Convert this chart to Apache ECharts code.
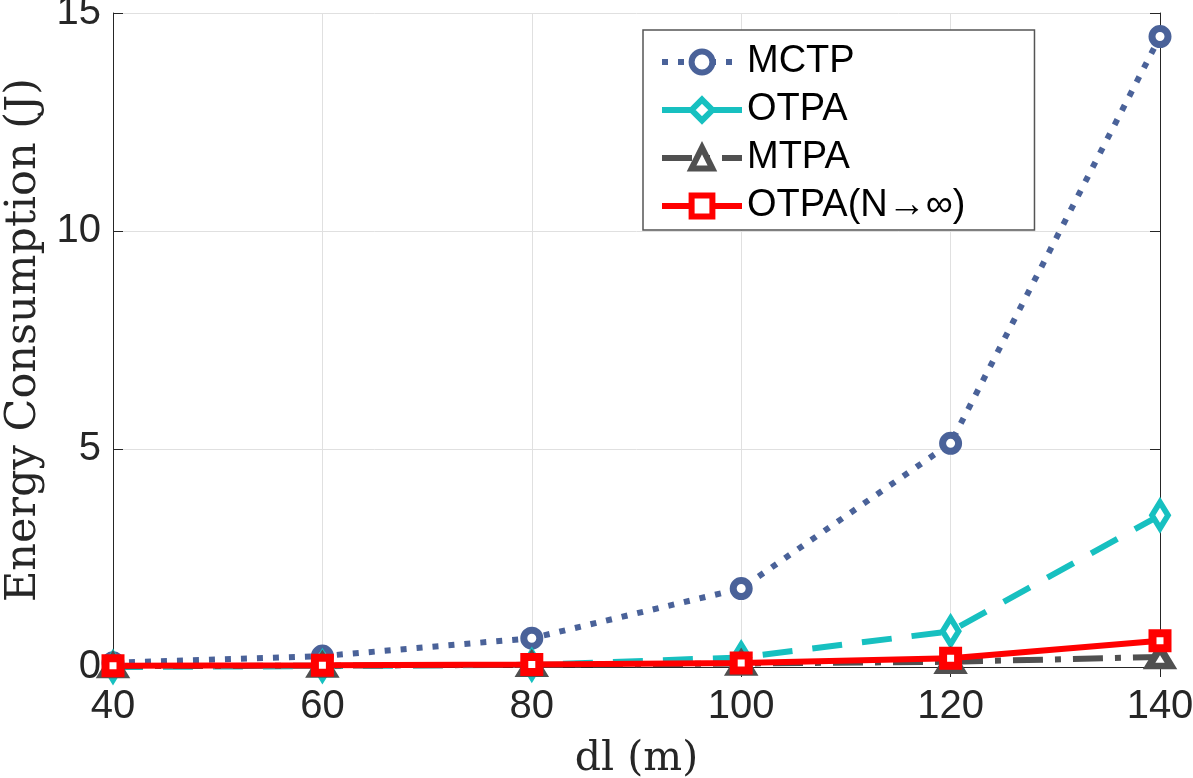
<!DOCTYPE html>
<html>
<head>
    <meta charset="utf-8">
    <script src="https://cdn.jsdelivr.net/npm/echarts@6/dist/echarts.min.js"></script>
</head>
<body style="margin:0;">
<div id="main" style="width: 1193px;height:778px;"></div>

<script type="text/javascript">
    // data
    var dl = [40, 60, 80, 100, 120, 140];
    var mctp = [0.1, 0.25, 0.66, 1.8, 5.13, 14.46];
    var otpa = [0.0, 0.02, 0.05, 0.22, 0.82, 3.48];
    var mtpa = [0.02, 0.03, 0.05, 0.08, 0.12, 0.23];
    var otpaInf = [0.03, 0.04, 0.06, 0.09, 0.2, 0.6];

    function pairs(ys) {
        return dl.map(function (x, i) { return [x, ys[i]]; });
    }

    var dom = document.getElementById("main");
    var myChart = echarts.init(dom);
    var tickFont = {fontFamily: 'Liberation Sans', fontSize: 40, color: '#262626'};
    var boxLine = {show: true, lineStyle: {color: '#262626', width: 1}};

    var option = {
        animation: false,
        backgroundColor: '#fff',
        grid: {left: 113, right: 33, top: 13, bottom: 111, outerBoundsMode: 'none', containLabel: false},
        legend: {
            orient: 'vertical',
            left: 643, top: 30,
            padding: [13, 69, 5, 16],
            itemGap: 10,
            itemWidth: 80, itemHeight: 26,
            borderColor: '#555', borderWidth: 1.5,
            backgroundColor: '#fff',
            lineStyle: {width: 6},
            itemStyle: {borderWidth: 6},
            textStyle: {fontFamily: 'Liberation Sans', fontSize: 38, color: '#000'},
            data: ['MCTP', 'OTPA', 'MTPA', 'OTPA(N\u2192\u221E)']
        },
        xAxis: [{
            type: 'value', min: 40, max: 140, interval: 20,
            name: 'dl (m)', nameLocation: 'middle', nameGap: 72,
            nameTextStyle: {fontFamily: 'DejaVu Serif', fontSize: 41, color: '#262626'},
            axisLine: boxLine,
            axisTick: {inside: true, length: 10, lineStyle: {color: '#262626'}},
            axisLabel: Object.assign({margin: 20}, tickFont),
            splitLine: {show: true, lineStyle: {color: '#e0e0e0', width: 1}}
        }, {
            type: 'value', min: 40, max: 140, interval: 20, position: 'top',
            axisLine: boxLine,
            axisTick: {inside: true, length: 10, lineStyle: {color: '#262626'}},
            axisLabel: {show: false}, splitLine: {show: false}
        }],
        yAxis: [{
            type: 'value', min: 0, max: 15, interval: 5,
            name: 'Energy Consumption (J)', nameLocation: 'middle', nameGap: 66,
            nameTextStyle: {fontFamily: 'DejaVu Serif', fontSize: 43, color: '#262626'},
            axisLine: boxLine,
            axisTick: {inside: true, length: 10, lineStyle: {color: '#262626'}},
            axisLabel: Object.assign({margin: 12}, tickFont),
            splitLine: {show: true, lineStyle: {color: '#e0e0e0', width: 1}}
        }, {
            type: 'value', min: 0, max: 15, interval: 5, position: 'right',
            axisLine: boxLine,
            axisTick: {inside: true, length: 10, lineStyle: {color: '#262626'}},
            axisLabel: {show: false}, splitLine: {show: false}
        }],
        series: [{
            name: 'MCTP', type: 'line', data: pairs(mctp), clip: false,
            symbol: 'circle', symbolSize: 16,
            lineStyle: {color: '#4a6299', width: 6, type: [6, 10]},
            itemStyle: {color: '#fff', borderColor: '#4a6299', borderWidth: 7}
        }, {
            name: 'OTPA', type: 'line', data: pairs(otpa), clip: false,
            symbol: 'diamond', symbolSize: [16, 26],
            lineStyle: {color: '#17c0c0', width: 6, type: [30, 20]},
            itemStyle: {color: '#fff', borderColor: '#17c0c0', borderWidth: 6}
        }, {
            name: 'MTPA', type: 'line', data: pairs(mtpa), clip: false,
            symbol: 'triangle', symbolSize: [22, 18],
            lineStyle: {color: '#505050', width: 6, type: [30, 12, 6, 12]},
            itemStyle: {color: '#fff', borderColor: '#505050', borderWidth: 7}
        }, {
            name: 'OTPA(N\u2192\u221E)', type: 'line', data: pairs(otpaInf), clip: false,
            symbol: 'rect', symbolSize: 15,
            lineStyle: {color: '#ff0000', width: 6},
            itemStyle: {color: '#fff', borderColor: '#ff0000', borderWidth: 8}
        }]
    };
    myChart.setOption(option);
</script>
</body>
</html>
